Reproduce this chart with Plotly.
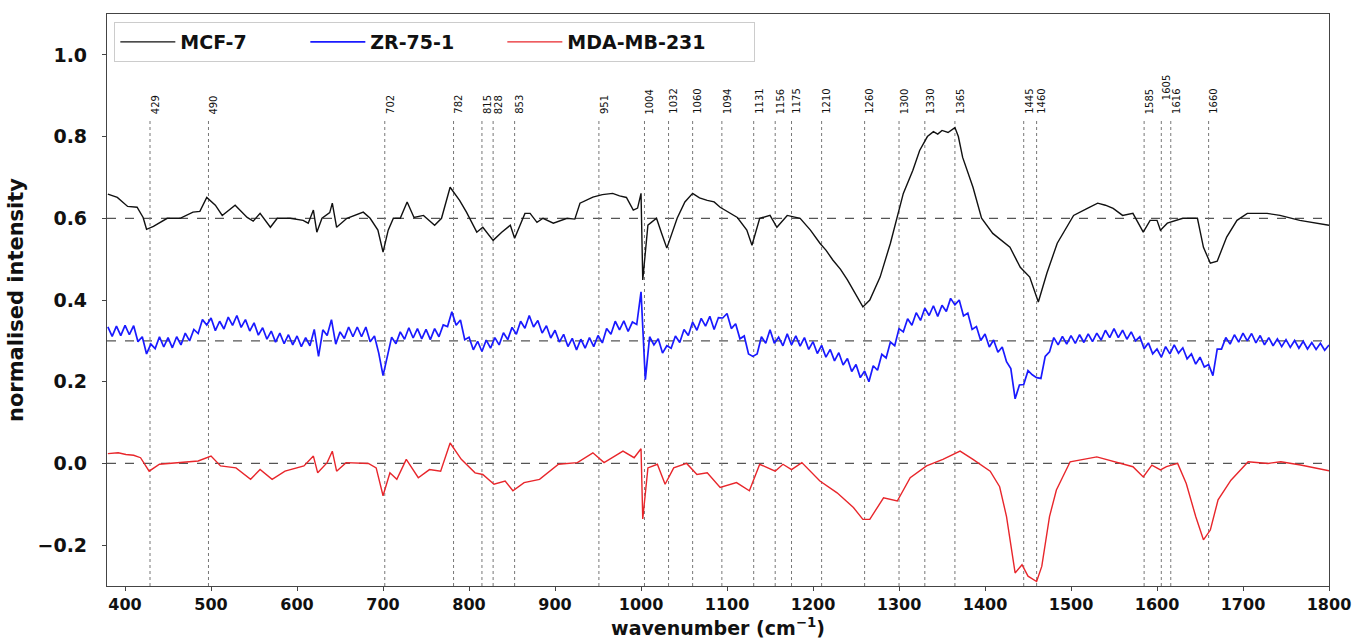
import plotly.graph_objects as go

# ---------------- data ----------------
mcf7_x = [380, 391, 403, 414, 421, 425, 433, 449, 464, 479, 487, 495, 505, 513, 528, 542, 549, 557, 569, 577,
          592, 607, 613, 619, 623, 629, 638, 641, 646, 658, 677, 685, 694, 700, 706, 712, 720, 728, 736, 747,
          760, 768, 778, 789, 797, 809, 816, 828, 838, 848, 853, 865, 871, 879, 886, 898, 914, 923, 929, 944,
          955, 967, 975, 983, 991, 996, 1000, 1002, 1008, 1018, 1024, 1030, 1042, 1051, 1060, 1068, 1077, 1085, 1092, 1102,
          1112, 1123, 1129, 1138, 1150, 1158, 1170, 1185, 1197, 1208, 1215, 1223, 1232, 1240, 1251, 1258, 1266, 1278, 1290, 1298,
          1305, 1316, 1324, 1333, 1340, 1345, 1350, 1357, 1365, 1369, 1374, 1386, 1396, 1409, 1420, 1429, 1441, 1452, 1462, 1472,
          1484, 1503, 1519, 1531, 1540, 1549, 1560, 1572, 1584, 1592, 1600, 1604, 1612, 1630, 1647, 1654, 1662, 1670, 1681, 1693,
          1705, 1712, 1728, 1743, 1766, 1800]
mcf7_y = [0.659, 0.651, 0.629, 0.627, 0.602, 0.573, 0.580, 0.600, 0.600, 0.615, 0.617, 0.651, 0.632, 0.607, 0.632, 0.602, 0.593, 0.612, 0.578, 0.600,
          0.600, 0.595, 0.588, 0.620, 0.566, 0.600, 0.614, 0.637, 0.578, 0.600, 0.615, 0.600, 0.571, 0.517, 0.571, 0.600, 0.600, 0.640, 0.602, 0.607,
          0.583, 0.600, 0.676, 0.644, 0.615, 0.566, 0.578, 0.546, 0.566, 0.583, 0.551, 0.612, 0.612, 0.590, 0.600, 0.588, 0.600, 0.598, 0.637, 0.652,
          0.658, 0.661, 0.655, 0.651, 0.620, 0.625, 0.661, 0.449, 0.583, 0.600, 0.563, 0.527, 0.600, 0.640, 0.661, 0.650, 0.644, 0.640, 0.627, 0.615,
          0.602, 0.571, 0.534, 0.600, 0.607, 0.578, 0.607, 0.600, 0.571, 0.539, 0.522, 0.498, 0.475, 0.449, 0.407, 0.383, 0.400, 0.456, 0.539, 0.602,
          0.661, 0.717, 0.766, 0.800, 0.812, 0.806, 0.815, 0.810, 0.822, 0.800, 0.749, 0.676, 0.600, 0.563, 0.545, 0.529, 0.480, 0.456, 0.395, 0.466,
          0.539, 0.607, 0.624, 0.637, 0.632, 0.624, 0.607, 0.612, 0.566, 0.595, 0.595, 0.571, 0.588, 0.600, 0.600, 0.529, 0.490, 0.495, 0.554, 0.595,
          0.612, 0.612, 0.612, 0.607, 0.595, 0.583]

zr75_x = list(range(380, 1801, 5))
zr75_y = [
    0.334, 0.311, 0.336, 0.313, 0.338, 0.315, 0.337, 0.298, 0.310, 0.268,
    0.292, 0.281, 0.310, 0.285, 0.308, 0.283, 0.310, 0.290, 0.319, 0.300,
    0.328, 0.318, 0.352, 0.339, 0.356, 0.325, 0.348, 0.329, 0.358, 0.338,
    0.362, 0.333, 0.352, 0.324, 0.344, 0.314, 0.332, 0.304, 0.324, 0.297,
    0.319, 0.293, 0.315, 0.290, 0.312, 0.286, 0.308, 0.288, 0.328, 0.262,
    0.327, 0.313, 0.352, 0.292, 0.322, 0.306, 0.334, 0.310, 0.334, 0.310,
    0.334, 0.298, 0.312, 0.270, 0.215, 0.262, 0.309, 0.293, 0.322, 0.304,
    0.332, 0.307, 0.330, 0.305, 0.328, 0.303, 0.330, 0.310, 0.339, 0.335,
    0.371, 0.338, 0.351, 0.303, 0.309, 0.278, 0.299, 0.274, 0.302, 0.282,
    0.308, 0.290, 0.320, 0.303, 0.333, 0.316, 0.348, 0.331, 0.362, 0.334,
    0.350, 0.319, 0.337, 0.307, 0.326, 0.297, 0.316, 0.286, 0.306, 0.278,
    0.304, 0.282, 0.308, 0.286, 0.313, 0.295, 0.330, 0.316, 0.348, 0.327,
    0.349, 0.323, 0.346, 0.340, 0.420, 0.205, 0.310, 0.290, 0.305, 0.270,
    0.288, 0.282, 0.312, 0.296, 0.328, 0.313, 0.346, 0.326, 0.355, 0.336,
    0.360, 0.328, 0.357, 0.356, 0.367, 0.330, 0.342, 0.305, 0.312, 0.268,
    0.262, 0.268, 0.310, 0.294, 0.327, 0.294, 0.309, 0.288, 0.317, 0.290,
    0.312, 0.287, 0.308, 0.279, 0.298, 0.269, 0.289, 0.260, 0.279, 0.251,
    0.271, 0.241, 0.257, 0.225, 0.242, 0.210, 0.226, 0.200, 0.239, 0.228,
    0.267, 0.258, 0.297, 0.288, 0.330, 0.322, 0.354, 0.338, 0.369, 0.350,
    0.380, 0.362, 0.386, 0.360, 0.387, 0.372, 0.404, 0.388, 0.400, 0.361,
    0.368, 0.328, 0.335, 0.301, 0.317, 0.285, 0.302, 0.272, 0.285, 0.249,
    0.232, 0.158, 0.192, 0.193, 0.227, 0.217, 0.210, 0.208, 0.262, 0.273,
    0.308, 0.290, 0.311, 0.292, 0.313, 0.294, 0.315, 0.296, 0.317, 0.298,
    0.319, 0.302, 0.326, 0.308, 0.330, 0.308, 0.326, 0.304, 0.322, 0.300,
    0.310, 0.281, 0.295, 0.268, 0.280, 0.260, 0.286, 0.268, 0.290, 0.270,
    0.283, 0.256, 0.268, 0.243, 0.260, 0.236, 0.242, 0.215, 0.280, 0.280,
    0.308, 0.292, 0.315, 0.297, 0.319, 0.300, 0.318, 0.295, 0.313, 0.290,
    0.308, 0.288, 0.305, 0.286, 0.303, 0.284, 0.301, 0.282, 0.299, 0.280,
    0.296, 0.279, 0.294, 0.277, 0.290,
]

mda_x = [380, 392, 401, 410, 418, 428, 440, 462, 485, 500, 511, 529, 546, 557, 571, 586, 608, 619, 624, 635,
         641, 646, 657, 683, 692, 700, 708, 716, 727, 741, 754, 767, 778, 791, 807, 816, 829, 842, 851, 864,
         882, 904, 926, 944, 957, 979, 992, 1000, 1002, 1008, 1019, 1028, 1038, 1053, 1065, 1077, 1092, 1111, 1126, 1138,
         1156, 1165, 1175, 1187, 1208, 1228, 1247, 1258, 1266, 1282, 1298, 1313, 1332, 1351, 1371, 1386, 1406, 1417, 1425, 1435,
         1443, 1450, 1460, 1466, 1475, 1483, 1499, 1530, 1557, 1572, 1584, 1594, 1604, 1611, 1624, 1634, 1645, 1654, 1662, 1671,
         1686, 1706, 1729, 1744, 1767, 1800]
mda_y = [0.024, 0.026, 0.022, 0.020, 0.014, -0.019, -0.002, 0.002, 0.006, 0.018, -0.006, -0.011, -0.039, -0.015, -0.039, -0.019, -0.006, 0.018, -0.023, 0.002,
         0.030, -0.019, 0.002, 0.000, -0.011, -0.079, -0.023, -0.039, 0.010, -0.035, -0.015, -0.019, 0.050, 0.010, -0.023, -0.027, -0.051, -0.043, -0.067, -0.047,
         -0.039, -0.002, 0.002, 0.026, 0.002, 0.030, 0.014, 0.036, -0.136, -0.011, -0.002, -0.051, -0.011, 0.000, -0.027, -0.023, -0.059, -0.047, -0.067, -0.002,
         -0.019, -0.002, -0.015, 0.002, -0.043, -0.072, -0.108, -0.137, -0.137, -0.084, -0.092, -0.035, -0.006, 0.010, 0.030, 0.010, -0.019, -0.057, -0.130, -0.268,
         -0.248, -0.276, -0.289, -0.252, -0.130, -0.065, 0.004, 0.016, 0.000, -0.008, -0.033, -0.004, -0.016, -0.008, 0.000, -0.049, -0.130, -0.187, -0.163, -0.089,
         -0.041, 0.004, 0.000, 0.004, -0.004, -0.018]

series_names = ["MCF-7", "ZR-75-1", "MDA-MB-231"]
baseline_offsets = [0.6, 0.3, 0.0]

peak_labels = ["429", "490", "702", "782", "815", "828", "853", "951", "1004", "1032", "1060", "1094",
               "1131", "1156", "1175", "1210", "1260", "1300", "1330", "1365", "1445", "1460",
               "1585", "1605", "1616", "1660"]
peak_positions = [429, 497, 702, 782, 815, 828, 853, 951, 1004, 1032, 1060, 1094,
                  1131, 1156, 1175, 1210, 1260, 1300, 1330, 1365, 1445, 1460,
                  1585, 1605, 1616, 1660]

x_ticks = [400, 500, 600, 700, 800, 900, 1000, 1100, 1200, 1300, 1400, 1500, 1600, 1700, 1800]
y_ticks = [-0.2, 0.0, 0.2, 0.4, 0.6, 0.8, 1.0]
y_tick_text = ["\u22120.2", "0.0", "0.2", "0.4", "0.6", "0.8", "1.0"]

# ---------------- figure ----------------
colors = ["#111111", "#1a1aff", "#e8262b"]
widths = [1.4, 1.7, 1.4]
legend_widths = [120, 127, 182]
FONT = "DejaVu Sans"

fig = go.Figure()
for name, xs, ys, c, w, lw in zip(series_names, [mcf7_x, zr75_x, mda_x], [mcf7_y, zr75_y, mda_y],
                                  colors, widths, legend_widths):
    fig.add_trace(go.Scatter(x=xs, y=ys, mode="lines", name=name, legendwidth=lw,
                             line=dict(color=c, width=w)))

shapes = []
for off in baseline_offsets:
    shapes.append(dict(type="line", xref="paper", yref="y", x0=0, x1=1, y0=off, y1=off,
                       line=dict(color="#555555", width=1.3, dash="dash"), layer="below"))
for pos in peak_positions:
    shapes.append(dict(type="line", xref="x", yref="y", x0=pos, x1=pos, y0=-0.3, y1=0.845,
                       line=dict(color="#777777", width=1, dash="dot"), layer="below"))

annotations = []
for pos, lab in zip(peak_positions, peak_labels):
    ylab = 0.885 if lab == "1605" else 0.85
    annotations.append(dict(x=pos, y=ylab, xref="x", yref="y", text=lab, textangle=-90,
                            showarrow=False, xanchor="left", yanchor="bottom", xshift=-2,
                            font=dict(family=FONT, size=10, color="#111111")))

fig.update_layout(
    width=1357, height=639,
    margin=dict(l=107, r=28, t=14, b=53, autoexpand=False),
    paper_bgcolor="white", plot_bgcolor="white",
    shapes=shapes, annotations=annotations,
    font=dict(family=FONT, color="#111111"),
    legend=dict(orientation="h", x=0.006, y=0.986, xanchor="left", yanchor="top",
                bgcolor="rgba(255,255,255,0.9)", bordercolor="#cccccc", borderwidth=1,
                font=dict(family=FONT, size=19, color="#111111", weight="bold"),
                itemwidth=55),
    showlegend=True,
)
fig.update_xaxes(range=[379, 1800], tickvals=x_ticks, ticks="outside", ticklen=4, tickcolor="#444",
                 showline=True, linecolor="#444444", linewidth=1.2, mirror=True, showgrid=False, zeroline=False,
                 automargin=False,
                 tickfont=dict(family=FONT, size=16, weight="bold", color="#111"),
                 title=dict(text="wavenumber (cm<sup>\u22121</sup>)",
                            font=dict(family=FONT, size=19, weight="bold", color="#111")))
fig.update_yaxes(range=[-0.3, 1.1], tickvals=y_ticks, ticktext=y_tick_text, ticks="outside", ticklen=4, tickcolor="#444",
                 showline=True, linecolor="#444444", linewidth=1.2, mirror=True, showgrid=False, zeroline=False,
                 automargin=False, ticklabelstandoff=11,
                 tickfont=dict(family=FONT, size=19, weight="bold", color="#111"),
                 title=dict(text="normalised intensity", standoff=8,
                            font=dict(family=FONT, size=21, weight="bold", color="#111")))

# remove the browser's default 8px page margin so the 1357x639 figure fills the window exactly
fig.write_html("out.html", config={"displayModeBar": False},
               post_script="document.body.style.margin='0';document.body.style.overflow='hidden';")
